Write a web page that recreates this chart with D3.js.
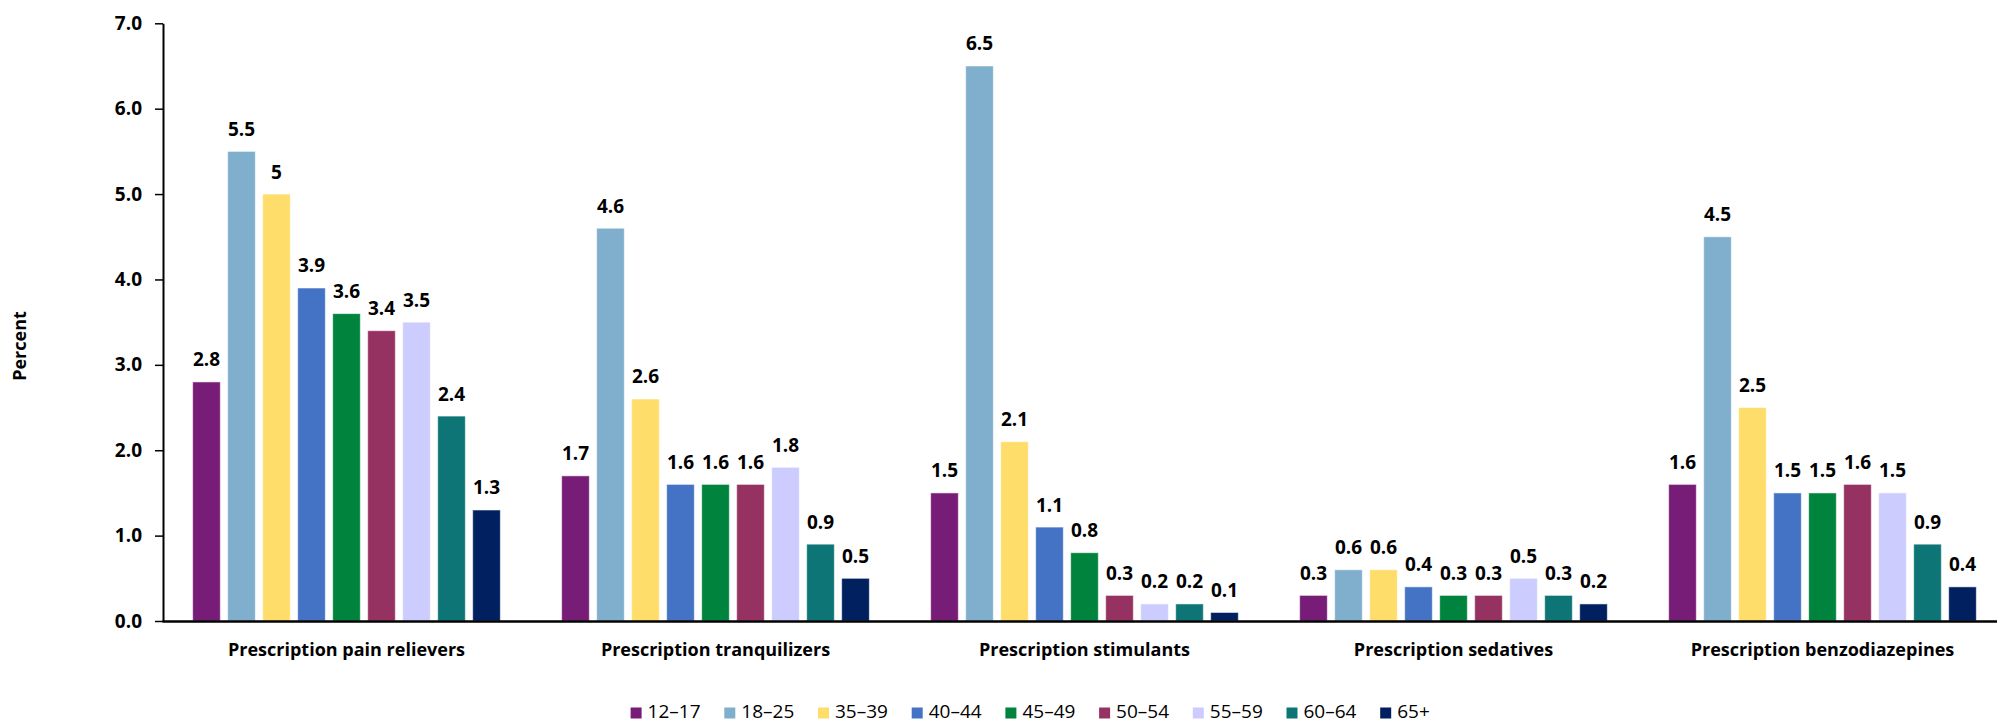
<!DOCTYPE html>
<html>
<head>
<meta charset="utf-8">
<script src="https://cdn.jsdelivr.net/npm/d3@7"></script>
<style>
  html, body { margin: 0; padding: 0; background: #fff; }
  svg { display: block; }
  text { font-family: "Open Sans", "Noto Sans", sans-serif; fill: #000; }
</style>
</head>
<body>
<svg id="chart" width="1997" height="723"></svg>
<script>
const categories = [
  "Prescription pain relievers",
  "Prescription tranquilizers",
  "Prescription stimulants",
  "Prescription sedatives",
  "Prescription benzodiazepines"
];
const ageGroups = ["12–17", "18–25", "35–39", "40–44", "45–49", "50–54", "55–59", "60–64", "65+"];
const painRelievers   = [2.8, 5.5, 5, 3.9, 3.6, 3.4, 3.5, 2.4, 1.3];
const tranquilizers   = [1.7, 4.6, 2.6, 1.6, 1.6, 1.6, 1.8, 0.9, 0.5];
const stimulants      = [1.5, 6.5, 2.1, 1.1, 0.8, 0.3, 0.2, 0.2, 0.1];
const sedatives       = [0.3, 0.6, 0.6, 0.4, 0.3, 0.3, 0.5, 0.3, 0.2];
const benzodiazepines = [1.6, 4.5, 2.5, 1.5, 1.5, 1.6, 1.5, 0.9, 0.4];
const yTicks = [0, 1, 2, 3, 4, 5, 6, 7];
const colors = ["#771C77", "#7FAFCD", "#FFDD6B", "#4472C4", "#00843D", "#963262", "#CCCCFF", "#0E7576", "#002060"];

const seriesByCategory = [painRelievers, tranquilizers, stimulants, sedatives, benzodiazepines];
const table = categories.map((c, ci) => ({
  category: c,
  values: ageGroups.map((a, ai) => ({ age: a, value: seriesByCategory[ci][ai] }))
}));

const svg = d3.select("#chart");
const plotLeft = 163, plotTop = 23.3, plotBottom = 621;

const y = d3.scaleLinear().domain([0, 7]).range([plotBottom, plotTop]);
const x0 = d3.scaleBand().domain(categories).range([162, 2007]).paddingInner(0).paddingOuter(0);
const x1 = d3.scaleBand().domain(ageGroups).range([0, x0.bandwidth()]).paddingInner(0.21).paddingOuter(0.876);
const color = d3.scaleOrdinal().domain(ageGroups).range(colors);

// bars
const groups = svg.append("g").selectAll("g").data(table).join("g")
  .attr("transform", d => `translate(${x0(d.category)},0)`);

groups.selectAll("rect").data(d => d.values).join("rect")
  .attr("x", d => x1(d.age))
  .attr("y", d => y(d.value))
  .attr("width", x1.bandwidth())
  .attr("height", d => y(0) - y(d.value))
  .attr("fill", d => color(d.age))
  .attr("stroke", "rgba(255,255,255,0.55)")
  .attr("stroke-width", 1);

groups.selectAll("text.val").data(d => d.values).join("text")
  .attr("class", "val")
  .attr("x", d => x1(d.age) + x1.bandwidth() / 2)
  .attr("y", d => y(d.value) - 15.5)
  .attr("text-anchor", "middle")
  .style("font-size", "19px")
  .style("font-weight", "bold")
  .text(d => String(d.value));

// y axis
const yAxis = svg.append("g")
  .attr("transform", `translate(${plotLeft},0)`)
  .call(d3.axisLeft(y).tickValues(yTicks).tickFormat(d3.format(".1f")).tickSize(8).tickSizeOuter(0).tickPadding(13));
yAxis.select(".domain").attr("stroke", "#000").attr("stroke-width", 2);
yAxis.selectAll(".tick line").attr("stroke", "#000").attr("stroke-width", 1.5);
yAxis.selectAll(".tick text")
  .style("font-size", "19px").style("font-weight", "bold")
  .style("font-family", '"Open Sans", sans-serif').attr("fill", "#000");

// x axis
const xAxis = svg.append("g")
  .attr("transform", `translate(0,${plotBottom})`)
  .call(d3.axisBottom(x0).tickSize(0).tickSizeOuter(0).tickPadding(22));
xAxis.select(".domain").attr("stroke", "#000").attr("stroke-width", 2.5);
xAxis.selectAll(".tick text")
  .style("font-size", "18px").style("font-weight", "bold")
  .style("font-family", '"Open Sans", sans-serif').attr("fill", "#000");

// y title
svg.append("text")
  .attr("transform", "translate(26,346) rotate(-90)")
  .attr("text-anchor", "middle")
  .style("font-size", "18px").style("font-weight", "bold")
  .text("Percent");

// legend
const legend = svg.append("g").attr("transform", "translate(630.6,713)");
const items = legend.selectAll("g").data(ageGroups).join("g")
  .attr("transform", (d, i) => `translate(${i * 93.7},0)`);
items.append("rect")
  .attr("x", 0).attr("y", -5.5).attr("width", 11).attr("height", 11)
  .attr("fill", d => color(d));
items.append("text")
  .attr("x", 17).attr("y", 5)
  .style("font-size", "19px")
  .text(d => d);
</script>
</body>
</html>
